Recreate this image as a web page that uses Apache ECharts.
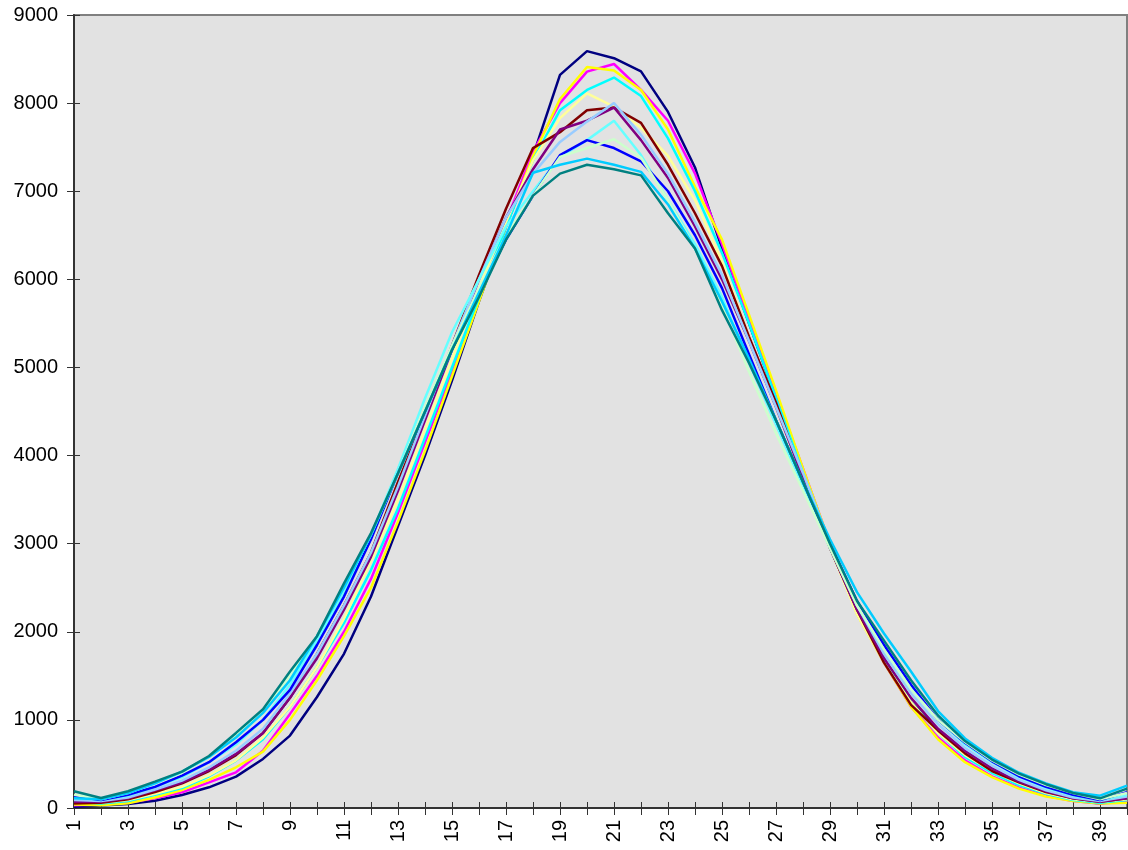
<!DOCTYPE html>
<html>
<head>
<meta charset="utf-8">
<script src="https://cdn.jsdelivr.net/npm/echarts@6/dist/echarts.min.js"></script>
<style>
  html, body { margin: 0; padding: 0; background: #fff; }
  #chart { width: 1128px; height: 850px; }
</style>
</head>
<body>
<div id="chart"></div>
<script>
// categories 1..40
const categories = ['1','2','3','4','5','6','7','8','9','10','11','12','13','14','15','16','17','18','19','20',
  '21','22','23','24','25','26','27','28','29','30','31','32','33','34','35','36','37','38','39','40']

// series values
const navy = [15,27,45,83,148,235,356,557,822,1260,1750,2400,3200,4000,4850,5750,6600,7400,8320,8590,8510,8360,7900,7270,6350,5500,4650,3800,3000,2300,1700,1200,880,600,420,280,170,90,50,100]
const magenta = [30,40,60,110,178,290,405,650,1068,1500,2000,2600,3350,4150,4950,5800,6650,7450,8000,8357,8444,8150,7800,7200,6400,5550,4700,3850,3000,2250,1650,1150,800,540,360,230,140,80,50,70]
const yellow = [40,30,55,120,205,320,462,640,1000,1450,1950,2500,3250,4050,4900,5750,6600,7400,8047,8410,8370,8150,7700,7050,6450,5600,4740,3850,3000,2200,1650,1150,780,520,350,220,130,80,50,60]
const cyan = [70,50,80,150,227,360,538,780,1150,1600,2100,2700,3400,4200,5000,5800,6600,7350,7920,8150,8290,8080,7600,7000,6300,5500,4650,3800,3000,2250,1700,1200,850,580,400,260,160,90,60,90]
const lightYellow = [60,60,90,160,240,370,540,800,1150,1600,2150,2800,3500,4300,5100,5900,6650,7350,7830,8110,7960,7720,7400,6900,6200,5350,4550,3750,2950,2200,1650,1200,850,600,420,280,170,100,70,100]
const maroon = [50,60,100,180,280,420,600,850,1250,1750,2300,2900,3700,4450,5250,6050,6800,7490,7670,7920,7950,7775,7300,6750,6150,5350,4600,3750,2950,2250,1650,1170,880,620,420,290,180,110,70,110]
const purple = [70,70,110,200,290,430,614,850,1250,1700,2250,2850,3600,4400,5200,6000,6700,7250,7700,7800,7950,7580,7150,6600,6000,5300,4550,3750,2950,2250,1700,1250,900,650,450,300,190,110,70,110]
const paleBlue = [90,80,120,210,310,460,650,900,1300,1750,2300,2900,3650,4450,5250,6000,6700,7200,7560,7790,8000,7640,7200,6650,6050,5300,4550,3800,3000,2300,1750,1300,950,680,480,320,200,120,80,130]
const lightCyan = [120,90,140,240,350,520,720,1000,1400,1900,2450,3100,3850,4650,5400,6000,6600,7000,7390,7580,7800,7410,6900,6400,5800,5050,4350,3650,2950,2300,1800,1350,1000,720,520,350,230,140,90,150]
const blue = [133,90,150,240,367,520,746,1000,1340,1850,2400,3050,3800,4500,5200,5850,6450,6950,7410,7580,7490,7340,7000,6500,5900,5150,4400,3700,3000,2350,1850,1400,1000,740,530,360,240,150,90,180]
const lightGreen = [150,100,170,280,400,580,820,1100,1500,1950,2500,3100,3800,4550,5250,5900,6500,6950,7390,7490,7590,7380,6900,6350,5700,4950,4250,3600,2950,2300,1800,1350,1000,750,540,380,260,170,100,170]
const sky = [110,100,170,280,413,580,800,1080,1450,1950,2500,3100,3800,4500,5200,5850,6500,7210,7300,7370,7300,7220,6850,6350,5750,5100,4400,3700,3050,2450,1980,1550,1100,790,570,400,280,180,140,254]
const teal = [190,114,190,300,413,590,852,1120,1550,1950,2550,3120,3800,4500,5200,5800,6450,6950,7200,7300,7250,7180,6750,6350,5650,5050,4400,3700,3000,2350,1900,1450,1050,760,550,390,270,170,110,220]

const seriesList = [
  { data: navy, color: '#000080' },
  { data: magenta, color: '#FF00FF' },
  { data: yellow, color: '#FFFF00' },
  { data: cyan, color: '#00FFFF' },
  { data: lightYellow, color: '#FFFF99' },
  { data: maroon, color: '#800000' },
  { data: purple, color: '#800080' },
  { data: paleBlue, color: '#99CCFF' },
  { data: lightCyan, color: '#66FFFF' },
  { data: blue, color: '#0000FF' },
  { data: lightGreen, color: '#CCFFCC' },
  { data: sky, color: '#00CCFF' },
  { data: teal, color: '#008080' }
]

const chart = echarts.init(document.getElementById('chart'))

chart.setOption({
  animation: false,
  textStyle: { fontFamily: 'Liberation Sans', fontSize: 20 },
  grid: {
    left: 74, right: 1, top: 15, bottom: 42,
    show: true,
    backgroundColor: '#E2E2E2',
    borderColor: '#808080',
    borderWidth: 2
  },
  xAxis: [
    {
      type: 'category',
      data: categories,
      boundaryGap: false,
      axisLine: { lineStyle: { color: '#333', width: 2 } },
      axisTick: { interval: 0, length: 7, lineStyle: { color: '#333' } },
      axisLabel: { interval: 1, rotate: 90, margin: 12, color: '#000', fontSize: 20, fontFamily: 'Liberation Sans' },
      splitLine: { show: false }
    },
    { // inside half of the cross ticks
      type: 'category',
      data: categories,
      boundaryGap: false,
      position: 'bottom',
      axisLine: { show: false },
      axisTick: { interval: 0, inside: true, length: 6, lineStyle: { color: '#333' } },
      axisLabel: { show: false },
      splitLine: { show: false }
    }
  ],
  yAxis: [
    {
      type: 'value',
      min: 0, max: 9000, interval: 1000,
      axisLine: { show: true, lineStyle: { color: '#333', width: 2 } },
      axisTick: { show: true, length: 7, lineStyle: { color: '#333' } },
      axisLabel: {
        margin: 16, color: '#000', fontSize: 20, fontFamily: 'Liberation Sans',
        formatter: v => String(v)
      },
      splitLine: { show: false }
    },
    {
      type: 'value',
      min: 0, max: 9000, interval: 1000,
      position: 'left',
      axisLine: { show: false },
      axisTick: { show: true, inside: true, length: 6, lineStyle: { color: '#333' } },
      axisLabel: { show: false },
      splitLine: { show: false }
    }
  ],
  series: seriesList.map(s => ({
    type: 'line',
    data: s.data,
    symbol: 'none',
    smooth: false,
    lineStyle: { color: s.color, width: 2.5 },
    itemStyle: { color: s.color }
  }))
})
</script>
</body>
</html>
